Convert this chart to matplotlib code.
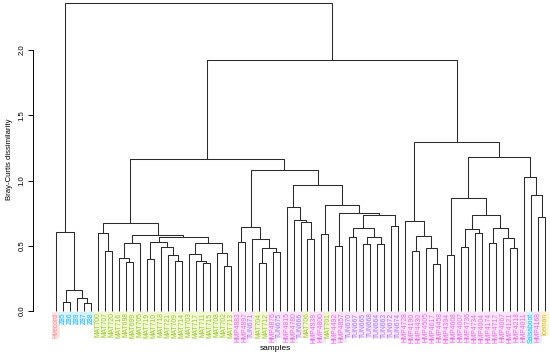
import matplotlib
matplotlib.use("Agg")
import matplotlib.pyplot as plt

# ---------------- data ----------------
labels = ["Hvecord", "Z85", "Z86", "Z89", "Z87", "Z88",
          "MAT700", "MAT707", "MAT720", "MAT716", "MAT698", "MAT699", "MAT705",
          "MAT719", "MAT710", "MAT718", "MAT721", "MAT709", "MAT714", "MAT703",
          "MAT717", "MAT711", "MAT715", "MAT708", "MAT702", "MAT713",
          "HMP4883", "HMP4897", "TUN671", "MAT704", "MAT712", "HMP4876", "TUN675",
          "HMP4815", "HMP4780", "TUN666", "MAT706", "HMP4939", "HMP4800", "MAT701",
          "HMP4492", "HMP4857", "TUN670", "TUN667", "TUN665", "TUN668", "TUN664",
          "TUN663", "TUN672", "TUN674", "HMP4728", "HMP4190", "HMP4430", "HMP4505",
          "HMP4617", "HMP4458", "HMP4394", "HMP4608", "HMP4007", "HMP4736",
          "HMP4734", "HMP4004", "HMP4174", "HMP4717", "HMP4067", "HMP4121",
          "HMP4218", "HMP4011", "Salsaboot", "HMP4168", "Iceman"]

# merges: (left, right, height)
z_group = (("Z85", "Z86", 0.07), ("Z89", ("Z87", "Z88", 0.064), 0.10), 0.16)
outgroup = ("Hvecord", z_group, 0.605)

mat_left = ("MAT700", ("MAT707", "MAT720", 0.46), 0.595)
mat_a = (("MAT716", ("MAT698", "MAT699", 0.378), 0.404), "MAT705", 0.523)
mat_c = (("MAT719", "MAT710", 0.40),
         ("MAT718", ("MAT721", ("MAT709", "MAT714", 0.38), 0.43), 0.49), 0.53)
mat_d = (("MAT703", ("MAT717", ("MAT711", "MAT715", 0.365), 0.386), 0.437),
         ("MAT708", ("MAT702", "MAT713", 0.345), 0.447), 0.519)
mat_b = (mat_c, mat_d, 0.565)
mat_group = (mat_left, (mat_a, mat_b, 0.585), 0.672)

mid_l = (("HMP4883", "HMP4897", 0.53),
         ("TUN671", (("MAT704", "MAT712", 0.365), ("HMP4876", "TUN675", 0.455), 0.48), 0.549),
         0.646)
mid_r1 = ("HMP4815", ("HMP4780", ("TUN666", ("MAT706", "HMP4939", 0.55), 0.685), 0.697), 0.795)
tun_s1 = (("TUN670", "TUN667", 0.57),
          (("TUN665", "TUN668", 0.513), ("TUN664", "TUN663", 0.513), 0.57), 0.638)
tun_s = (tun_s1, ("TUN672", "TUN674", 0.651), 0.736)
mid_r2 = (("HMP4800", "MAT701", 0.59), (("HMP4492", "HMP4857", 0.498), tun_s, 0.748), 0.812)
mid_group = (mid_l, (mid_r1, mid_r2, 0.966), 1.08)
center = (mat_group, mid_group, 1.163)

hmp_left = ("HMP4728", (("HMP4190", "HMP4430", 0.462),
                        ("HMP4505", ("HMP4617", "HMP4458", 0.358), 0.48), 0.577), 0.692)
hmp_r1 = (("HMP4394", "HMP4608", 0.429),
          ((("HMP4007", "HMP4736", 0.493), ("HMP4734", "HMP4004", 0.595), 0.626),
           (("HMP4174", "HMP4717", 0.519), ("HMP4067", ("HMP4121", "HMP4218", 0.48), 0.562), 0.633),
           0.736), 0.863)
hmp_r2 = ("HMP4011", ("Salsaboot", ("HMP4168", "Iceman", 0.723), 0.889), 1.024)
hmp_group = (hmp_left, (hmp_r1, hmp_r2, 1.178), 1.297)
root = (outgroup, (center, hmp_group, 1.92), 2.36)

yticks = [0.0, 0.5, 1.0, 1.5, 2.0]

# ---------------- colours ----------------
def label_colors(name):
    if name == "Hvecord":
        return "#f08a8a", "#fde3e3"
    if name.startswith("Z") or name == "Salsaboot":
        return "#2ab4e6", "#d6f3fd"
    if name.startswith("MAT"):
        return "#9cc53a", "#f1f8d2"
    if name == "Iceman":
        return "#c9b437", "#fbf6cf"
    if name.startswith("TUN"):
        return "#9a7ef0", "#fbe3f8"
    return "#e06ee0", "#fbe3f8"

# ---------------- drawing ----------------
W, H, DPI = 550, 359, 100
fig = plt.figure(figsize=(W / DPI, H / DPI), dpi=DPI)
px_per_leaf = 6.986
leaf0_px = 56.0
axis_px = 33.0
y0_px_top = 311.0
px_per_unit = 130.5
bottom_px = 40.0
left = axis_px / W
ax = fig.add_axes([left, bottom_px / H, 1 - left, 1 - bottom_px / H])
ax.set_xlim((axis_px - leaf0_px) / px_per_leaf, (W - leaf0_px) / px_per_leaf)
ax.set_ylim(-((H - y0_px_top) - bottom_px) / px_per_unit, (y0_px_top) / px_per_unit)

line_kw = dict(color="#2b2b2b", lw=0.75, solid_capstyle="butt")


def draw(node):
    if isinstance(node, str):
        return float(labels.index(node)), 0.0
    l, r, h = node
    xl, hl = draw(l)
    xr, hr = draw(r)
    ax.plot([xl, xl, xr, xr], [hl, h, h, hr], **line_kw)
    return (xl + xr) / 2.0, h


draw(root)

for i, name in enumerate(labels):
    fg, bg = label_colors(name)
    ax.text(i, -0.012, name, rotation=90, ha="center", va="top", fontsize=4.9,
            color=fg, family="Liberation Sans",
            bbox=dict(boxstyle="square,pad=0.12", fc=bg, ec="none"))

for s in ["top", "right", "bottom"]:
    ax.spines[s].set_visible(False)
ax.spines["left"].set_bounds(0, 2.0)
ax.spines["left"].set_linewidth(0.7)
ax.set_xticks([])
ax.set_yticks(yticks)
ax.set_yticklabels([f"{v:.1f}" for v in yticks], rotation=90, va="center",
                   fontsize=5.6, family="Liberation Sans")
ax.tick_params(axis="y", length=3.5, width=0.7, pad=2)
ax.set_ylabel("Bray-Curtis dissimilarity", fontsize=5.6, family="Liberation Sans", labelpad=4)
fig.text(275 / W, 1 - 349 / H, "samples", ha="center", va="center", fontsize=6,
         family="Liberation Sans")

fig.savefig("out.png", dpi=DPI)
